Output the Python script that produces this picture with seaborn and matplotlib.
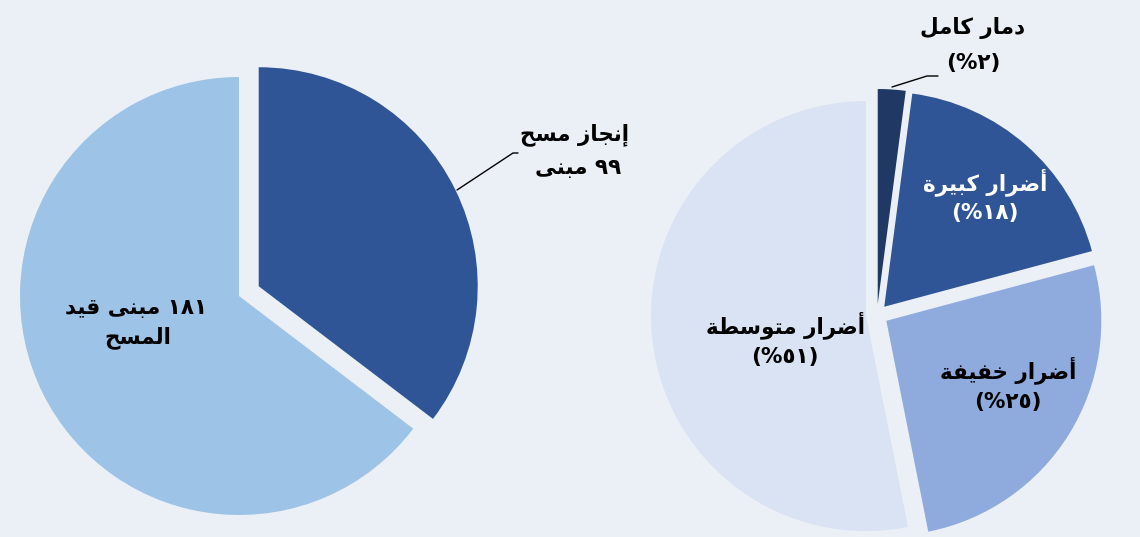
import numpy as np
import matplotlib
matplotlib.use("Agg")
import matplotlib.pyplot as plt
import seaborn as sns

# ---------------- data ----------------
survey_labels = ["إنجاز مسح", "مبنى قيد المسح"]
survey_values = [99, 181]
survey_colors = ["#2F5597", "#9DC3E6"]

damage_labels = ["دمار كامل", "أضرار كبيرة", "أضرار خفيفة", "أضرار متوسطة"]
damage_values = [2, 18, 25, 51]
damage_colors = ["#203864", "#2F5597", "#8FAADC", "#DAE3F3"]

# ---------------- Arabic shaping helpers ----------------
FORMS = {
    'ا': ('\uFE8D', '\uFE8E', None, None),
    'أ': ('\uFE83', '\uFE84', None, None),
    'إ': ('\uFE87', '\uFE88', None, None),
    'ب': ('\uFE8F', '\uFE90', '\uFE91', '\uFE92'),
    'ة': ('\uFE93', '\uFE94', None, None),
    'ت': ('\uFE95', '\uFE96', '\uFE97', '\uFE98'),
    'ج': ('\uFE9D', '\uFE9E', '\uFE9F', '\uFEA0'),
    'ح': ('\uFEA1', '\uFEA2', '\uFEA3', '\uFEA4'),
    'خ': ('\uFEA5', '\uFEA6', '\uFEA7', '\uFEA8'),
    'د': ('\uFEA9', '\uFEAA', None, None),
    'ر': ('\uFEAD', '\uFEAE', None, None),
    'ز': ('\uFEAF', '\uFEB0', None, None),
    'س': ('\uFEB1', '\uFEB2', '\uFEB3', '\uFEB4'),
    'ض': ('\uFEBD', '\uFEBE', '\uFEBF', '\uFEC0'),
    'ط': ('\uFEC1', '\uFEC2', '\uFEC3', '\uFEC4'),
    'ف': ('\uFED1', '\uFED2', '\uFED3', '\uFED4'),
    'ق': ('\uFED5', '\uFED6', '\uFED7', '\uFED8'),
    'ك': ('\uFED9', '\uFEDA', '\uFEDB', '\uFEDC'),
    'ل': ('\uFEDD', '\uFEDE', '\uFEDF', '\uFEE0'),
    'م': ('\uFEE1', '\uFEE2', '\uFEE3', '\uFEE4'),
    'ن': ('\uFEE5', '\uFEE6', '\uFEE7', '\uFEE8'),
    'و': ('\uFEED', '\uFEEE', None, None),
    'ى': ('\uFEEF', '\uFEF0', '\uFBE8', '\uFBE9'),
    'ي': ('\uFEF1', '\uFEF2', '\uFEF3', '\uFEF4'),
}
AR_DIGITS = "٠١٢٣٤٥٦٧٨٩"


def ar_num(n):
    return "".join(AR_DIGITS[int(d)] for d in str(n))


def shape_word(word):
    out = []
    for i, c in enumerate(word):
        if c not in FORMS:
            out.append(c)
            continue
        f = FORMS[c]
        prev = word[i - 1] if i > 0 else None
        nxt = word[i + 1] if i + 1 < len(word) else None
        jp = prev in FORMS and FORMS[prev][2] is not None
        jn = f[2] is not None and nxt in FORMS
        if jp and jn:
            g = f[3]
        elif jp:
            g = f[1]
        elif jn:
            g = f[2]
        else:
            g = f[0]
        out.append(g)
    return "".join(reversed(out))


def rtl(text):
    """logical Arabic text -> visual left-to-right string"""
    words = text.split(" ")
    toks = [w if w[0] in AR_DIGITS else shape_word(w) for w in words]
    return " ".join(reversed(toks))


# ---------------- figure ----------------
sns.set_theme(style="white")
plt.rcParams['font.family'] = ['DejaVu Sans']
BG = "#EAF0F6"
fig = plt.figure(figsize=(11.4, 5.37), dpi=100, facecolor=BG)
ax = fig.add_axes([0, 0, 1, 1])
ax.set_facecolor(BG)

H = 537
ax.pie(survey_values, colors=survey_colors, startangle=90, counterclock=False,
       explode=[22, 0], center=(239, H - 296), radius=219,
       wedgeprops=dict(linewidth=0))
ax.pie(damage_values, colors=damage_colors, startangle=90, counterclock=False,
       explode=[11] * 4, center=(877, H - 315), radius=215,
       wedgeprops=dict(linewidth=0))
ax.set_xlim(0, 1140)
ax.set_ylim(0, H)
ax.set_aspect('equal')
ax.axis('off')

fs = 15.5
tk = dict(ha='center', va='center', fontsize=fs, fontweight='bold')

# left pie labels
ax.text(575, H - 135, rtl(survey_labels[0]), color='black', **tk)
ax.text(578, H - 168, rtl(ar_num(survey_values[0]) + " مبنى"), color='black', **tk)
w = survey_labels[1].split(" ")
ax.text(136, H - 308, rtl(ar_num(survey_values[1]) + " " + w[0] + " " + w[1]), color='black', **tk)
ax.text(138, H - 338, rtl(w[2]), color='black', **tk)
ax.plot([457, 513, 518], [H - 190, H - 153, H - 153], color='black', lw=1)

# right pie labels
pos = [(973, 28, 63), (985, 182, 213), (1008, 370, 402), (785, 325, 357)]
cols = ['black', 'white', 'black', 'black']
for lab, v, (x, y1, y2), c in zip(damage_labels, damage_values, pos, cols):
    ax.text(x, H - y1, rtl(lab), color=c, **tk)
    ax.text(x, H - y2, "(%" + ar_num(v) + ")", color=c, **tk)
ax.plot([892, 927, 938], [H - 87, H - 76, H - 76], color='black', lw=1)

fig.savefig("out.png", dpi=100, facecolor=BG)
